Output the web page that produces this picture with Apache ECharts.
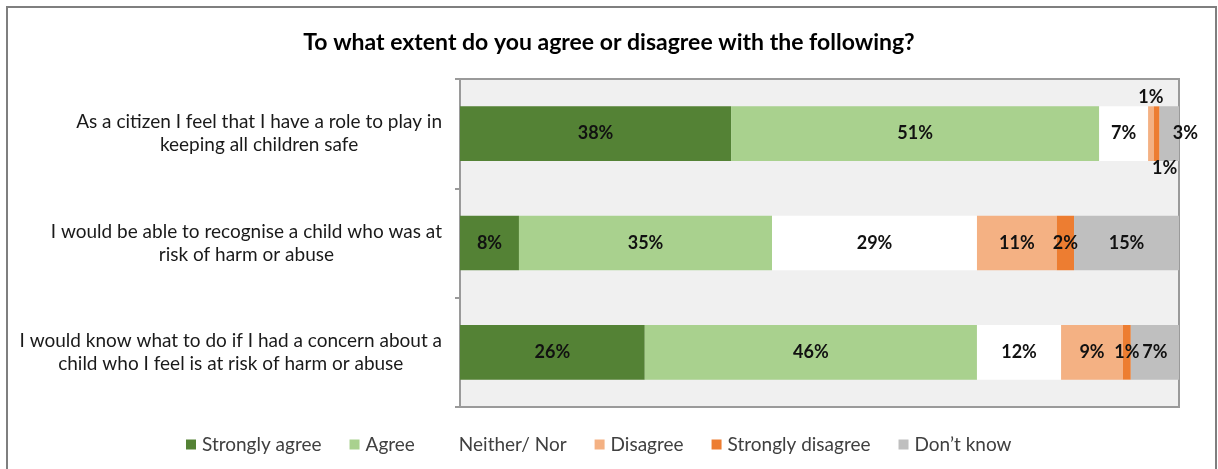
<!DOCTYPE html>
<html>
<head>
<meta charset="utf-8">
<title>Agreement with child-safety statements</title>
<script src="https://cdn.jsdelivr.net/npm/echarts@6/dist/echarts.min.js"></script>
<style>
  html, body { margin: 0; padding: 0; background: #ffffff; }
  #wrap { position: relative; width: 1218px; height: 469px; overflow: hidden; }
  #frame { position: absolute; left: 6px; top: 6px; width: 1211px; height: 480px;
           border: 2px solid #7f7f7f; box-sizing: border-box; pointer-events: none; }
  #chart { position: absolute; left: 0; top: 0; width: 1218px; height: 469px; }
</style>
</head>
<body>
<div id="wrap">
  <div id="chart"></div>
  <div id="frame"></div>
</div>
<script>
// Statements (top to bottom)
const statements = [
  'As a citizen I feel that I have a role to play in\nkeeping all children safe',
  'I would be able to recognise a child who was at\nrisk of harm or abuse',
  'I would know what to do if I had a concern about a\nchild who I feel is at risk of harm or abuse'
];

// Response categories
const responses = ['Strongly agree', 'Agree', 'Neither/ Nor', 'Disagree', 'Strongly disagree', 'Don\u2019t know'];

// Percentage of respondents per statement, one array per response
const stronglyAgree    = [37.7,  8.2, 25.7];
const agree            = [51.2, 35.2, 46.2];
const neitherNor       = [ 6.8, 28.5, 11.7];
const disagree         = [ 0.8, 11.1,  8.6];
const stronglyDisagree = [ 0.8,  2.4,  1.1];
const dontKnow         = [ 2.7, 14.6,  6.7];

const seriesValues = [stronglyAgree, agree, neitherNor, disagree, stronglyDisagree, dontKnow];
const colors = ['#548235', '#a9d18e', '#ffffff', '#f4b183', '#ed7d31', '#bfbfbf'];

// Small segments in the first row get their labels moved outside the bar
const labelOverrides = {
  '3-0': { position: 'top', distance: 0 },
  '4-0': { position: 'bottom', distance: -2, offset: [8, 0] },
  '5-0': { position: 'inside', offset: [16, 0] }
};

const FONT = 'Lato, "Open Sans", sans-serif';

const series = seriesValues.map((vals, si) => ({
  name: responses[si],
  type: 'bar',
  stack: 'total',
  barWidth: '50%',
  itemStyle: { color: colors[si] },
  emphasis: { disabled: true },
  label: {
    show: true,
    position: 'inside',
    color: '#111111',
    fontFamily: FONT,
    fontWeight: 'bold',
    fontSize: 18,
    formatter: p => Math.round(p.value) + '%'
  },
  data: vals.map((v, ci) => {
    const o = labelOverrides[si + '-' + ci];
    return o ? { value: v, label: o } : v;
  })
}));

const chart = echarts.init(document.getElementById('chart'), null, { renderer: 'canvas' });
chart.setOption({
  animation: false,
  backgroundColor: 'transparent',
  title: {
    text: 'To what extent do you agree or disagree with the following?',
    left: 'center',
    top: 26,
    textStyle: { fontFamily: FONT, fontWeight: 'bold', fontSize: 23, color: '#000000' }
  },
  grid: {
    left: 460, right: 39, top: 79, bottom: 62,
    show: true,
    backgroundColor: '#f0f0f0',
    borderColor: '#9a9a9a',
    borderWidth: 2
  },
  legend: {
    bottom: 10,
    left: 181,
    icon: 'rect',
    itemWidth: 10,
    itemHeight: 10,
    itemGap: 28,
    data: responses,
    selectedMode: false,
    textStyle: { fontFamily: FONT, fontSize: 19, color: '#404040', padding: [0, 0, 0, 1] }
  },
  xAxis: {
    type: 'value',
    min: 0,
    max: 100,
    show: false
  },
  yAxis: {
    type: 'category',
    inverse: true,
    data: statements,
    axisLine: { show: true, lineStyle: { color: '#9a9a9a', width: 2 } },
    axisTick: { show: true, length: 5, lineStyle: { color: '#9a9a9a', width: 2 } },
    axisLabel: {
      margin: 18,
      color: '#1a1a1a',
      fontFamily: FONT,
      fontSize: 19,
      lineHeight: 23,
      formatter: v => v.split('\n').map(s => '{c|' + s + '}').join('\n'),
      rich: { c: { align: 'center', fontFamily: FONT, fontSize: 19, lineHeight: 23, color: '#1a1a1a' } }
    }
  },
  series: series
});
</script>
</body>
</html>
